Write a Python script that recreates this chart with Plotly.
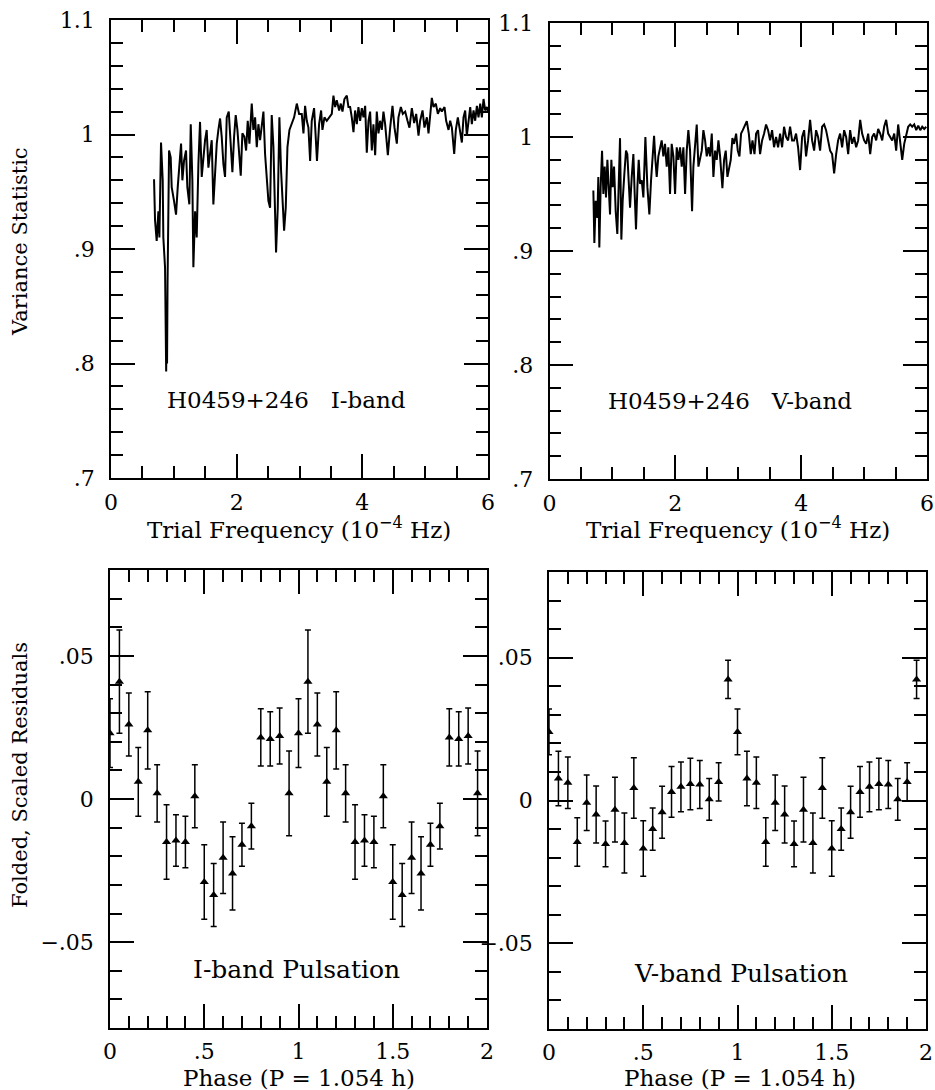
import plotly.graph_objects as go

# ---------------- data ----------------
i_freq = [0.685, 0.701, 0.727, 0.754, 0.770, 0.796, 0.823, 0.833, 0.860, 0.870, 0.878, 0.886, 0.892, 0.900,
          0.924, 0.950, 0.966, 1.003, 1.035, 1.062, 1.088, 1.115, 1.136, 1.162, 1.194, 1.215, 1.247, 1.269,
          1.295, 1.311, 1.338, 1.364, 1.391, 1.417, 1.444, 1.470, 1.497, 1.523, 1.550, 1.576, 1.603, 1.629,
          1.656, 1.683, 1.709, 1.736, 1.762, 1.789, 1.815, 1.842, 1.874, 1.906, 1.932, 1.959, 1.985, 2.012,
          2.038, 2.065, 2.091, 2.123, 2.150, 2.176, 2.203, 2.240, 2.266, 2.293, 2.320, 2.346, 2.373, 2.399,
          2.426, 2.452, 2.479, 2.505, 2.532, 2.558, 2.585, 2.611, 2.627, 2.654, 2.680, 2.707, 2.734, 2.755,
          2.781, 2.808, 2.840, 2.877, 2.914, 2.957, 2.994, 3.036, 3.063, 3.089, 3.116, 3.142, 3.169, 3.195,
          3.232, 3.252, 3.278, 3.312, 3.344, 3.365, 3.397, 3.434, 3.471, 3.514, 3.540, 3.567, 3.593, 3.631,
          3.657, 3.684, 3.715, 3.753, 3.779, 3.806, 3.832, 3.859, 3.885, 3.912, 3.938, 3.965, 3.992, 4.018,
          4.045, 4.071, 4.098, 4.124, 4.151, 4.177, 4.204, 4.230, 4.257, 4.283, 4.310, 4.336, 4.363, 4.406,
          4.443, 4.480, 4.512, 4.549, 4.575, 4.613, 4.644, 4.682, 4.719, 4.750, 4.788, 4.825, 4.857, 4.894,
          4.920, 4.958, 4.989, 5.027, 5.053, 5.080, 5.106, 5.133, 5.170, 5.202, 5.239, 5.265, 5.308, 5.334,
          5.372, 5.398, 5.425, 5.462, 5.488, 5.520, 5.557, 5.584, 5.610, 5.637, 5.663, 5.690, 5.717, 5.743,
          5.770, 5.796, 5.823, 5.849, 5.876, 5.902, 5.929, 5.955, 5.982, 6.000]
i_var = [0.961, 0.925, 0.907, 0.933, 0.910, 0.993, 0.960, 0.910, 0.884, 0.820, 0.793, 0.840, 0.800, 0.870,
         0.986, 0.980, 0.954, 0.942, 0.930, 0.954, 0.974, 0.992, 0.960, 0.977, 0.986, 0.954, 0.939, 1.009,
         0.960, 0.884, 0.933, 0.910, 0.974, 1.011, 0.963, 0.983, 0.995, 1.004, 0.971, 0.983, 0.995, 0.939,
         0.971, 0.992, 1.004, 1.014, 0.998, 0.974, 0.963, 1.015, 1.020, 0.995, 0.967, 0.998, 1.017, 1.004,
         0.980, 0.964, 1.001, 0.998, 0.986, 1.012, 0.992, 1.027, 1.004, 1.015, 0.989, 1.009, 0.995, 1.006,
         1.020, 0.983, 0.963, 0.942, 0.936, 1.017, 0.989, 0.930, 0.897, 0.936, 1.015, 0.968, 0.933, 0.916,
         0.936, 0.989, 1.004, 1.009, 1.015, 1.027, 1.018, 1.018, 1.001, 1.025, 1.012, 1.006, 0.977, 1.012,
         1.023, 1.004, 0.977, 1.009, 1.021, 1.004, 1.015, 1.012, 1.015, 1.018, 1.034, 1.024, 1.030, 1.021,
         1.027, 1.020, 1.031, 1.034, 1.024, 1.024, 1.015, 1.002, 1.021, 1.009, 1.024, 1.012, 1.023, 1.015,
         1.025, 0.984, 1.012, 1.020, 0.986, 1.009, 0.982, 1.020, 1.001, 1.012, 1.004, 1.020, 1.009, 0.982,
         1.006, 1.025, 1.006, 0.992, 1.015, 1.024, 1.018, 1.020, 1.012, 1.006, 1.023, 1.010, 1.018, 0.999,
         1.012, 1.021, 1.006, 1.015, 1.001, 1.021, 1.032, 1.024, 1.027, 1.018, 1.023, 1.020, 1.024, 1.012,
         1.004, 1.012, 1.006, 0.983, 1.004, 1.015, 1.001, 0.993, 1.015, 1.021, 0.999, 1.015, 1.024, 1.009,
         1.021, 1.012, 1.025, 1.015, 1.027, 1.015, 1.031, 1.021, 1.024, 1.020]

v_freq = [0.697, 0.713, 0.734, 0.760, 0.776, 0.792, 0.813, 0.835, 0.856, 0.877, 0.898, 0.920, 0.941, 0.962,
          0.983, 1.004, 1.026, 1.052, 1.078, 1.100, 1.121, 1.142, 1.163, 1.190, 1.216, 1.237, 1.259, 1.280,
          1.307, 1.333, 1.354, 1.375, 1.397, 1.418, 1.439, 1.466, 1.492, 1.524, 1.556, 1.587, 1.614, 1.640,
          1.662, 1.683, 1.704, 1.730, 1.757, 1.783, 1.810, 1.836, 1.863, 1.889, 1.916, 1.942, 1.969, 1.996,
          2.022, 2.049, 2.075, 2.102, 2.128, 2.155, 2.181, 2.207, 2.234, 2.266, 2.287, 2.314, 2.340, 2.367,
          2.393, 2.420, 2.446, 2.473, 2.499, 2.526, 2.552, 2.579, 2.605, 2.632, 2.658, 2.685, 2.711, 2.748,
          2.775, 2.801, 2.828, 2.854, 2.881, 2.907, 2.934, 2.966, 2.992, 3.019, 3.045, 3.072, 3.098, 3.136,
          3.168, 3.199, 3.226, 3.258, 3.284, 3.315, 3.347, 3.379, 3.411, 3.442, 3.474, 3.506, 3.538, 3.569,
          3.601, 3.633, 3.665, 3.697, 3.728, 3.760, 3.792, 3.824, 3.856, 3.888, 3.919, 3.951, 3.983, 4.015,
          4.047, 4.078, 4.110, 4.142, 4.174, 4.206, 4.237, 4.269, 4.301, 4.333, 4.365, 4.396, 4.428, 4.460,
          4.492, 4.524, 4.556, 4.587, 4.619, 4.651, 4.683, 4.715, 4.747, 4.778, 4.810, 4.842, 4.874, 4.906,
          4.938, 4.969, 5.001, 5.033, 5.065, 5.097, 5.128, 5.160, 5.192, 5.224, 5.256, 5.288, 5.319, 5.351,
          5.383, 5.415, 5.447, 5.479, 5.510, 5.542, 5.574, 5.606, 5.638, 5.670, 5.701, 5.733, 5.765, 5.797,
          5.829, 5.861, 5.893, 5.924, 5.956, 5.988]
v_var = [0.953, 0.907, 0.944, 0.929, 0.965, 0.903, 0.956, 0.988, 0.950, 0.974, 0.947, 0.980, 0.956, 0.932,
         0.980, 0.956, 0.974, 0.935, 0.915, 0.956, 0.999, 0.910, 0.944, 0.968, 0.988, 0.985, 0.956, 0.938,
         0.965, 0.985, 0.950, 0.919, 0.956, 0.980, 0.959, 0.962, 0.947, 1.000, 0.956, 0.932, 0.962, 0.983,
         1.001, 0.980, 0.965, 0.983, 0.991, 0.997, 0.983, 0.994, 0.974, 0.991, 0.950, 0.994, 0.983, 0.950,
         0.991, 0.980, 0.991, 0.974, 0.991, 0.950, 0.988, 1.006, 0.988, 0.935, 0.974, 0.994, 1.011, 0.974,
         0.980, 0.988, 1.006, 0.997, 0.983, 0.991, 0.983, 1.003, 0.965, 0.988, 0.980, 0.997, 0.983, 0.955,
         0.980, 0.988, 0.965, 0.971, 0.980, 0.999, 0.994, 1.003, 0.988, 0.983, 1.003, 1.006, 1.009, 1.014,
         1.003, 0.985, 0.997, 0.985, 1.003, 1.006, 0.985, 0.997, 1.003, 1.011, 1.006, 0.997, 1.006, 0.991,
         1.000, 0.991, 1.003, 0.991, 1.009, 1.000, 0.997, 1.009, 0.997, 0.997, 1.003, 0.991, 0.971, 1.000,
         1.006, 0.983, 0.997, 1.015, 0.997, 0.988, 1.006, 1.000, 0.988, 1.009, 1.011, 1.006, 0.997, 0.988,
         0.985, 0.968, 0.985, 0.997, 1.003, 0.991, 1.006, 1.000, 0.985, 1.006, 0.994, 1.000, 0.991, 0.997,
         1.015, 1.003, 0.997, 0.994, 1.003, 0.985, 1.000, 1.003, 0.997, 1.007, 1.003, 0.997, 1.009, 1.015,
         1.003, 1.000, 0.997, 1.003, 0.988, 1.011, 0.997, 0.980, 0.994, 1.003, 1.009, 1.011, 1.009, 1.011,
         1.006, 1.010, 1.006, 1.009, 1.007, 1.009]

phase_bins = [0.00, 0.05, 0.10, 0.15, 0.20, 0.25, 0.30, 0.35, 0.40, 0.45,
              0.50, 0.55, 0.60, 0.65, 0.70, 0.75, 0.80, 0.85, 0.90, 0.95]
i_resid = [0.023, 0.041, 0.026, 0.006, 0.024, 0.002, -0.015, -0.0145, -0.015, 0.001,
           -0.029, -0.0335, -0.0205, -0.026, -0.016, -0.0095, 0.0215, 0.021, 0.022, 0.002]
i_err = [0.012, 0.018, 0.011, 0.012, 0.0135, 0.010, 0.013, 0.009, 0.009, 0.011,
         0.013, 0.011, 0.0125, 0.0128, 0.0075, 0.008, 0.010, 0.0095, 0.0098, 0.0148]
v_resid = [0.024, 0.0077, 0.0062, -0.0145, -0.0008, -0.0049, -0.0152, -0.0032, -0.0149, 0.0044,
           -0.0168, -0.010, -0.0041, 0.003, 0.0048, 0.0058, 0.0056, 0.0004, 0.0065, 0.0424]
v_err = [0.008, 0.0095, 0.009, 0.0085, 0.0097, 0.010, 0.008, 0.0113, 0.0105, 0.0106,
         0.0097, 0.0074, 0.0091, 0.0089, 0.0087, 0.009, 0.0084, 0.0073, 0.0067, 0.0067]

freq_ticks = [0, 2, 4, 6]
var_ticks = [0.7, 0.8, 0.9, 1.0, 1.1]
var_ticktext = [".7", ".8", ".9", "1", "1.1"]
phase_ticks = [0, 0.5, 1, 1.5, 2]
phase_ticktext = ["0", ".5", "1", "1.5", "2"]
resid_ticks = [-0.05, 0, 0.05]
resid_ticktext = ["\u2212.05", "0", ".05"]

# ---------------- figure ----------------
FONT = "DejaVu Serif"
fig = go.Figure()

fig.add_trace(go.Scatter(x=i_freq, y=i_var, mode="lines", line=dict(color="black", width=2),
                         xaxis="x", yaxis="y", showlegend=False))
fig.add_trace(go.Scatter(x=v_freq, y=v_var, mode="lines", line=dict(color="black", width=2),
                         xaxis="x2", yaxis="y2", showlegend=False))

ph2 = phase_bins + [p + 1 for p in phase_bins]
fig.add_trace(go.Scatter(x=ph2, y=i_resid + i_resid, mode="markers",
                         marker=dict(symbol="triangle-up", size=8, color="black"),
                         error_y=dict(type="data", array=i_err + i_err, color="black", thickness=1.5, width=3),
                         xaxis="x3", yaxis="y3", showlegend=False))
fig.add_trace(go.Scatter(x=ph2, y=v_resid + v_resid, mode="markers",
                         marker=dict(symbol="triangle-up", size=8, color="black"),
                         error_y=dict(type="data", array=v_err + v_err, color="black", thickness=1.5, width=3),
                         xaxis="x4", yaxis="y4", showlegend=False))

TICKSIZE = 22


def axis(domain, anchor, rng, tickvals, ticktext, minor_dtick, standoff):
    return dict(domain=domain, anchor=anchor, range=rng, tickmode="array", tickvals=tickvals,
                ticktext=ticktext, ticks="inside", ticklen=24, tickwidth=1.5, tickcolor="black",
                showline=True, linecolor="black", linewidth=1.5, mirror="allticks",
                showgrid=False, zeroline=False, automargin=False, ticklabelstandoff=standoff,
                tickfont=dict(family=FONT, size=TICKSIZE, color="black"),
                minor=dict(ticks="inside", ticklen=12, tickwidth=1.5, tickcolor="black",
                           tickmode="linear", tick0=0, dtick=minor_dtick, showgrid=False))


W, H = 935, 1090
tl = dict(x=(111 / W, 488 / W), y=(1 - 478 / H, 1 - 20 / H))
tr = dict(x=(549.5 / W, 927 / W), y=(1 - 479 / H, 1 - 23 / H))
bl = dict(x=(110 / W, 487 / W), y=(1 - 1028 / H, 1 - 570 / H))
br = dict(x=(549 / W, 926 / W), y=(1 - 1029 / H, 1 - 572 / H))

fig.update_layout(
    template="none",
    width=W, height=H, margin=dict(l=0, r=0, t=0, b=0, autoexpand=False),
    paper_bgcolor="white", plot_bgcolor="white",
    font=dict(family=FONT, size=20, color="black"),
    xaxis=axis(tl["x"], "y", [0, 6], freq_ticks, [str(t) for t in freq_ticks], 0.5, 4),
    yaxis=axis(tl["y"], "x", [0.7, 1.1], var_ticks, var_ticktext, 0.02, 10),
    xaxis2=axis(tr["x"], "y2", [0, 6], freq_ticks, [str(t) for t in freq_ticks], 0.5, 4),
    yaxis2=axis(tr["y"], "x2", [0.7, 1.1], var_ticks, var_ticktext, 0.02, 10),
    xaxis3=axis(bl["x"], "y3", [0, 2], phase_ticks, phase_ticktext, 0.1, 3),
    yaxis3=axis(bl["y"], "x3", [-0.08, 0.08], resid_ticks, resid_ticktext, 0.01, 10),
    xaxis4=axis(br["x"], "y4", [0, 2], phase_ticks, phase_ticktext, 0.1, 3),
    yaxis4=axis(br["y"], "x4", [-0.08, 0.08], resid_ticks, resid_ticktext, 0.01, 10),
)


def note(text, x, y, xref, yref, size, angle=0):
    return dict(text=text, x=x, y=y, xref=xref, yref=yref, showarrow=False,
                font=dict(family=FONT, size=size, color="black"),
                xanchor="center", yanchor="middle", textangle=angle)


annotations = [
    note("H0459+246   I-band", 2.80, 0.768, "x", "y", 23),
    note("H0459+246   V-band", 2.87, 0.768, "x2", "y2", 23),
    note("I-band Pulsation", 0.99, -0.0595, "x3", "y3", 25),
    note("V-band Pulsation", 1.02, -0.0604, "x4", "y4", 25),
    note("Trial Frequency (10<sup>\u22124</sup> Hz)", 299 / W, 1 - 528 / H, "paper", "paper", 23),
    note("Trial Frequency (10<sup>\u22124</sup> Hz)", 738 / W, 1 - 528 / H, "paper", "paper", 23),
    note("Phase (P = 1.054 h)", 299 / W, 1 - 1078 / H, "paper", "paper", 23),
    note("Phase (P = 1.054 h)", 740 / W, 1 - 1078 / H, "paper", "paper", 23),
    note("Variance Statistic", 20 / W, 1 - 242 / H, "paper", "paper", 21, -90),
    note("Folded, Scaled Residuals", 20 / W, 1 - 775 / H, "paper", "paper", 21, -90),
]
fig.update_layout(annotations=annotations)

fig.write_html("out.html")
